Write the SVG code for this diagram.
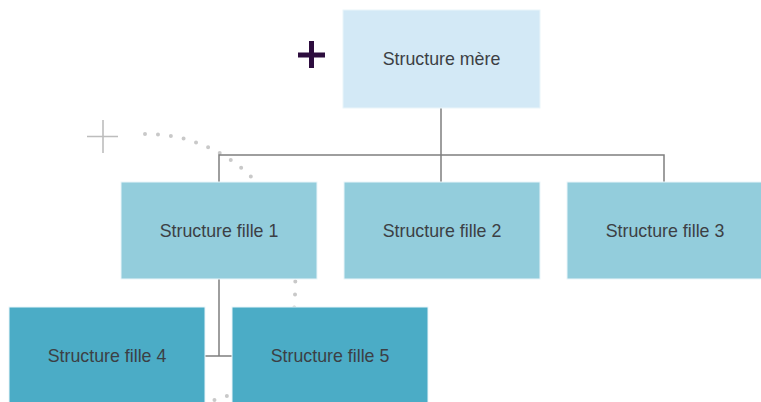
<svg xmlns="http://www.w3.org/2000/svg" width="761" height="402" viewBox="0 0 761 402">
<style>
.box{stroke:#eaf5fa;stroke-width:1}
.l0{fill:#d3e9f6}
.l1{fill:#93cddc}
.l2{fill:#4bacc6}
.t{font-family:"Liberation Sans",Arial,sans-serif;font-size:17.8px;fill:#3c3f44;text-anchor:middle;dominant-baseline:central}
.c{fill:none;stroke:#7f7f7f;stroke-width:1.5}
</style>
<rect width="761" height="402" fill="#ffffff"/>
<path d="M145,134 A148.5,148.5 0 0 1 295,292 C 296,345 262,392 205,402" fill="none" stroke="#c9c9c9" stroke-width="4" stroke-linecap="round" stroke-dasharray="0 13"/>
<g id="deco">
<path d="M87,136.5 H118 M103,120 V153" stroke="#bdbdbd" stroke-width="1.6" fill="none"/>
<path d="M298,55 H325 M311.5,41 V68" stroke="#2d0d3e" stroke-width="5" fill="none"/>
</g>
<g id="connectors">
<path class="c" d="M441,108 V155 M219,182 V155 H664 V182 M441,155 V182"/>
<path class="c" d="M219,279 V356 M205,356 H232"/>
</g>
<g id="n0"><rect class="box l0" x="343" y="10" width="197" height="98"/><text class="t" x="441.5" y="59">Structure mère</text></g>
<g id="n1"><rect class="box l1" x="121" y="182" width="196" height="97"/><text class="t" x="219" y="231">Structure fille 1</text></g>
<g id="n2"><rect class="box l1" x="344" y="182" width="196" height="97"/><text class="t" x="442" y="231">Structure fille 2</text></g>
<g id="n3"><rect class="box l1" x="567" y="182" width="196" height="97"/><text class="t" x="665" y="231">Structure fille 3</text></g>
<g id="n4"><rect class="box l2" x="9" y="307" width="196" height="98"/><text class="t" x="107" y="356">Structure fille 4</text></g>
<g id="n5"><rect class="box l2" x="232" y="307" width="196" height="98"/><text class="t" x="330" y="356">Structure fille 5</text></g>
</svg>
